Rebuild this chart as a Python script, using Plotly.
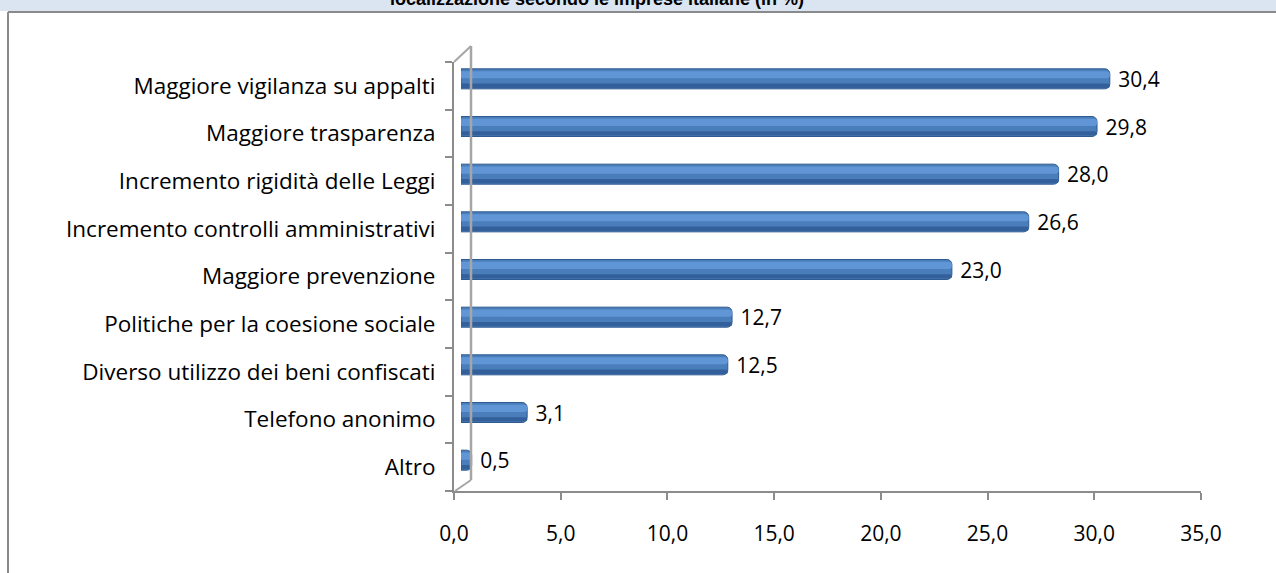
import plotly.graph_objects as go

categories = [
    "Altro",
    "Telefono anonimo",
    "Diverso utilizzo dei beni confiscati",
    "Politiche per la coesione sociale",
    "Maggiore prevenzione",
    "Incremento controlli amministrativi",
    "Incremento rigidità delle Leggi",
    "Maggiore trasparenza",
    "Maggiore vigilanza su appalti",
]
values = [0.5, 3.1, 12.5, 12.7, 23.0, 26.6, 28.0, 29.8, 30.4]
x_ticks = [0, 5, 10, 15, 20, 25, 30, 35]
title_text = "localizzazione secondo le imprese italiane (in %)"

W, H = 1276, 573
ML, MR, MT, MB = 454, 75, 62, 82
PW = W - ML - MR
PH = H - MT - MB


def px(X):
    return (X - ML) / PW


def py(Y):
    return (H - MB - Y) / PH


XMAX = 35
dx = 7 / PW
dy = 7 / PH
n = len(categories)

FONT = "Open Sans"
FS = 21
CAT_FS = 22.5
AX = "#8c8c8c"

fig = go.Figure()

# invisible trace to carry the category labels on the front axis
fig.add_trace(go.Scatter(x=[0] * n, y=categories, mode="markers",
                         marker=dict(opacity=0), hoverinfo="skip",
                         showlegend=False, xaxis="x", yaxis="y"))

# bars on depth-shifted axes (3D look)
fig.add_trace(go.Bar(x=values, y=categories, orientation="h",
                     width=0.42, offset=-0.21,
                     marker=dict(color="#4a7ebb", cornerradius=5,
                                 line=dict(color="#2f5a8f", width=1)),
                     texttemplate=" %{x:.1f}", textposition="outside",
                     constraintext="none",
                     textfont=dict(family=FONT, size=FS, color="#000000"),
                     cliponaxis=False, showlegend=False,
                     xaxis="x2", yaxis="y2"))
fig.add_trace(go.Bar(x=values, y=categories, orientation="h",
                     width=0.09, offset=-0.19,
                     marker=dict(color="#33609a", cornerradius=3, line=dict(width=0)),
                     hoverinfo="skip", showlegend=False,
                     xaxis="x2", yaxis="y2"))
fig.add_trace(go.Bar(x=values, y=categories, orientation="h",
                     width=0.15, offset=0.01,
                     marker=dict(color="#6096d6", cornerradius=3, line=dict(width=0)),
                     hoverinfo="skip", showlegend=False,
                     xaxis="x2", yaxis="y2"))

shapes = [
    # title band
    dict(type="rect", xref="paper", yref="paper", x0=px(-5), x1=px(W + 5),
         y0=py(11), y1=py(-5), fillcolor="#dbe5f1", line=dict(width=0), layer="below"),
    # frame
    dict(type="line", xref="paper", yref="paper", x0=px(8), x1=px(8),
         y0=py(12), y1=py(H + 5), line=dict(color="#8a8a8a", width=2)),
    dict(type="line", xref="paper", yref="paper", x0=px(8), x1=px(W + 5),
         y0=py(12), y1=py(12), line=dict(color="#8a8a8a", width=2)),
    # 3D wall
    dict(type="line", xref="paper", yref="paper", x0=px(471), x1=px(471),
         y0=py(46), y1=py(480), line=dict(color="#a6a6a6", width=2.5)),
    dict(type="line", xref="paper", yref="paper", x0=px(454), x1=px(471),
         y0=py(62), y1=py(46), line=dict(color="#a6a6a6", width=2)),
    dict(type="line", xref="paper", yref="paper", x0=px(455), x1=px(471),
         y0=py(491), y1=py(480), line=dict(color="#a6a6a6", width=2)),
]

fig.update_layout(
    width=W, height=H,
    margin=dict(l=ML, r=MR, t=MT, b=MB),
    paper_bgcolor="white", plot_bgcolor="rgba(0,0,0,0)",
    separators=",.",
    barmode="overlay",
    showlegend=False,
    font=dict(family=FONT, size=FS, color="#000000"),
    xaxis=dict(range=[0, XMAX], tickvals=x_ticks, tickformat=".1f",
               showgrid=False, zeroline=False, showline=True,
               linecolor=AX, linewidth=2, ticks="outside", ticklen=7,
               tickcolor=AX, tickwidth=1.5, ticklabelstandoff=16,
               tickfont=dict(family=FONT, size=FS)),
    yaxis=dict(type="category", categoryorder="array", categoryarray=categories,
               range=[-0.5, n - 0.5], showgrid=False, zeroline=False,
               showline=True, linecolor=AX, linewidth=2, ticks="outside",
               tickson="boundaries", ticklen=7, tickcolor=AX, tickwidth=1.5,
               ticklabelstandoff=12, tickfont=dict(family=FONT, size=CAT_FS)),
    xaxis2=dict(domain=[dx, 1], range=[0, XMAX * (1 - dx)], anchor="y2",
                visible=False),
    yaxis2=dict(domain=[dy, 1], type="category", categoryorder="array",
                categoryarray=categories,
                range=[-0.5, -0.5 + n * (1 - dy)], anchor="x2", visible=False),
    shapes=shapes,
    annotations=[dict(text="<b>" + title_text + "</b>", xref="paper", yref="paper",
                      x=px(597), y=py(11), xanchor="center", yanchor="bottom",
                      showarrow=False,
                      font=dict(family="Liberation Sans", size=18, color="#000000"))],
)

fig.write_html("out.html",
               config={"displayModeBar": False},
               post_script="document.body.style.margin='0px';document.body.style.padding='0px';")
